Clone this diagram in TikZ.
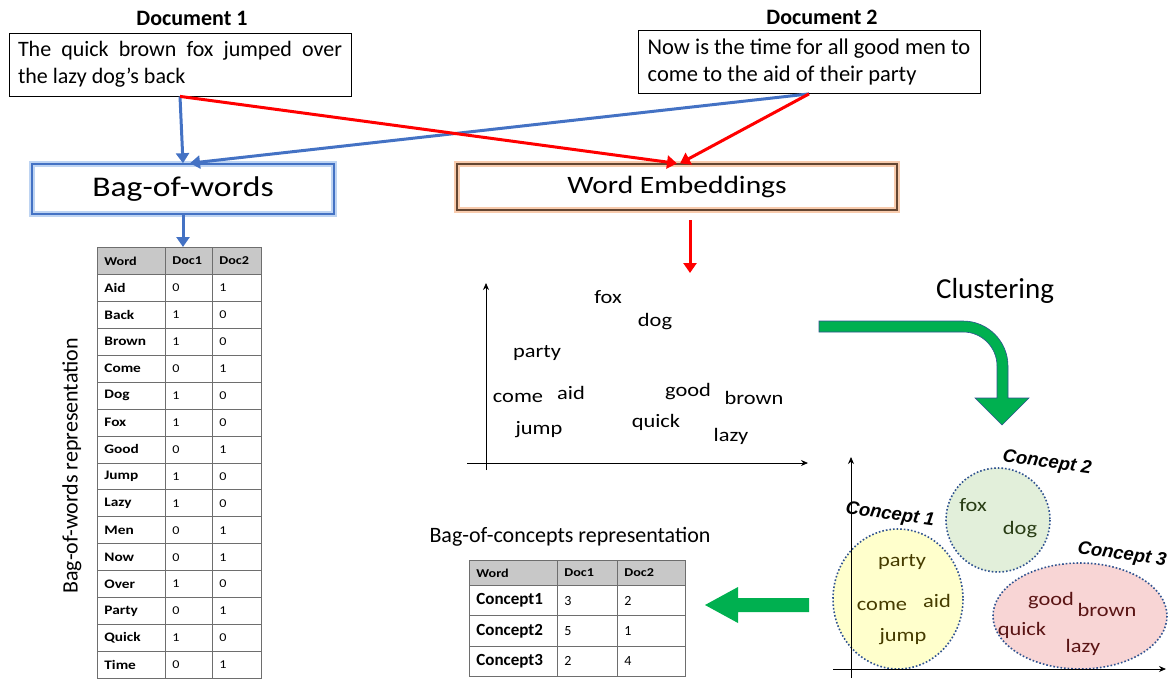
\documentclass[tikz,border=0pt]{standalone}
\usepackage{fontspec}
\setmainfont{Carlito}
\newfontfamily\widefont{Carlito}[FakeStretch=1.18]
\newfontfamily\conceptfont{Liberation Sans}
\usetikzlibrary{arrows.meta}

\definecolor{arrblue}{RGB}{68,114,196}
\definecolor{arrred}{RGB}{255,0,0}
\definecolor{glowblue}{RGB}{190,212,242}
\definecolor{gloworange}{RGB}{248,203,173}
\definecolor{embline}{RGB}{100,70,50}
\definecolor{arrgreen}{RGB}{0,176,80}
\definecolor{greenedge}{RGB}{47,82,143}
\definecolor{tabline}{RGB}{110,110,110}
\definecolor{tabhead}{RGB}{200,200,200}
\definecolor{dotblue}{RGB}{47,82,143}
\definecolor{conefill}{RGB}{255,255,204}
\definecolor{ctwofill}{RGB}{226,239,218}
\definecolor{cthreefill}{RGB}{248,213,213}
\definecolor{coneword}{RGB}{70,60,0}
\definecolor{ctwoword}{RGB}{40,60,20}
\definecolor{cthreeword}{RGB}{90,20,20}

\tikzset{
  doctitle/.style={font=\bfseries\fontsize{22}{26}\selectfont},
  docbox/.style={draw, line width=0.8pt, minimum height=63pt, inner xsep=9pt, text width=324pt, font=\fontsize{22}{27}\selectfont},
  bowbox/.style={draw=arrblue, line width=1.6pt, preaction={draw=glowblue, line width=6pt}, minimum width=302pt, minimum height=50pt, font=\widefont\fontsize{28.5}{32}\selectfont},
  embbox/.style={draw=embline, line width=1.2pt, preaction={draw=gloworange, line width=6pt}, minimum width=440pt, minimum height=46pt, font=\widefont\fontsize{25}{30}\selectfont},
  bluearrow/.style={draw=arrblue, line width=3pt, -{Triangle[length=10pt,width=13pt]}},
  redarrow/.style={draw=arrred, line width=3pt, -{Triangle[length=10pt,width=13pt]}},
  axis/.style={line width=0.8pt, -{Stealth[length=7pt,width=6pt]}},
  word/.style={font=\widefont\fontsize{19}{22}\selectfont},
  conlabel/.style={font=\conceptfont\bfseries\itshape\fontsize{18.5}{20}\selectfont, rotate=-8},
  bowcell/.style={draw=tabline, line width=0.8pt, anchor=north west, minimum height=26.93pt, inner xsep=7pt, inner ysep=0pt, align=left},
  bowhead/.style={font=\widefont\bfseries\fontsize{12}{14}\selectfont},
  bowword/.style={font=\widefont\bfseries\fontsize{13}{15}\selectfont},
  bownum/.style={font=\widefont\fontsize{12}{14}\selectfont},
  ctcell/.style={draw=tabline, line width=0.8pt, anchor=north west, minimum height=30.3pt, inner xsep=7pt, inner ysep=0pt, align=left},
}

\begin{document}
\begin{tikzpicture}[x=1pt,y=-1pt]
\useasboundingbox (0,0) rectangle (1168,678);

% Documents
\node[doctitle] (titleone) at (192,18) {Document 1};
\node[docbox, align=justify] (docone) at (180,64.5) {The quick brown fox jumped over\linebreak the lazy dog’s back};
\node[doctitle] (titletwo) at (822,17) {Document 2};
\node[draw, line width=0.8pt, minimum height=63pt, minimum width=342pt, inner xsep=8pt, align=left, font=\fontsize{22.5}{27}\selectfont] (doctwo) at (809,62) {Now is the time for all good men to\\come to the aid of their party};

% Two representations
\node[bowbox] (bow) at (183,189) {Bag-of-words};
\node[embbox] (emb) at (677,187) {Word Embeddings};

% Arrows from the documents
\draw[bluearrow] (docone.south) -- (bow.north);
\draw[bluearrow] (doctwo.south) -- ([xshift=7pt]bow.north);
\draw[redarrow] (docone.south) -- (emb.north);
\draw[redarrow] (doctwo.south) -- ([xshift=3pt]emb.north);

% Bag-of-words table
\node[bowcell, fill=tabhead, text width=54pt, bowhead] (bh1) at (97,247) {Word};
\node[bowcell, fill=tabhead, text width=33pt, bowhead] (bh2) at (165,247) {Doc1};
\node[bowcell, fill=tabhead, text width=35pt, bowhead] (bh3) at (212,247) {Doc2};
\foreach \w/\a/\b [count=\i] in {Aid/0/1, Back/1/0, Brown/1/0, Come/0/1, Dog/1/0, Fox/1/0, Good/0/1, Jump/1/0, Lazy/1/0, Men/0/1, Now/0/1, Over/1/0, Party/0/1, Quick/1/0, Time/0/1} {
  \node[bowcell, text width=54pt, bowword] (bw\i) at (97,{274+(\i-1)*26.93}) {\w};
  \node[bowcell, text width=33pt, bownum] (ba\i) at (165,{274+(\i-1)*26.93}) {\a};
  \node[bowcell, text width=35pt, bownum] (bb\i) at (212,{274+(\i-1)*26.93}) {\b};
}
\draw[bluearrow] (bow.south) -- (bow.south |- bh2.north);
\node[rotate=90, font=\fontsize{22}{26}\selectfont] (bowlabel) at (72,466) {Bag-of-words representation};

% Embedding space
\coordinate (embout) at (690,220);
\coordinate (plotin) at (690,273);
\draw[redarrow] (embout) -- (plotin);
\draw[axis] (486,470) -- (486,283);
\draw[axis] (467,463) -- (808,463);
\node[word] (fox) at (608,297) {fox};
\node[word] (dog) at (655,322) {dog};
\node[word] (party) at (537,353) {party};
\node[word] (come) at (518,398) {come};
\node[word] (aid) at (571,393) {aid};
\node[word] (jump) at (539,430) {jump};
\node[word] (good) at (688,392) {good};
\node[word] (brown) at (754,398) {brown};
\node[word] (quick) at (656,422) {quick};
\node[word] (lazy) at (731,436) {lazy};

% Clustering arrow
\node[font=\fontsize{29}{34}\selectfont] (clust) at (995,291) {Clustering};
\draw[fill=arrgreen, draw=greenedge, line width=0.6pt]
  (819,321) -- (963,321) .. controls (987.8,321) and (1008,341.2) .. (1008,366)
  -- (1008,398) -- (1029,398) -- (1002,425) -- (975,398) -- (997,398) -- (997,366)
  .. controls (997,347.2) and (981.8,332) .. (963,332) -- (819,332) -- cycle;

% Concept space
\draw[fill=conefill, draw=dotblue, line width=1.6pt, dotted] (898,599) ellipse [x radius=65, y radius=70];
\draw[fill=ctwofill, draw=dotblue, line width=1.6pt, dotted] (998,520) ellipse [x radius=52, y radius=52];
\draw[fill=cthreefill, draw=dotblue, line width=1.6pt, dotted] (1080,616) ellipse [x radius=87, y radius=53];
\draw[axis] (851,678) -- (851,457);
\draw[axis] (833,669) -- (1166,669);
\node[conlabel] (cone) at (890,515) {Concept 1};
\node[conlabel] (ctwo) at (1047,463) {Concept 2};
\node[conlabel] (cthree) at (1122,555) {Concept 3};
\node[word, text=coneword] (cparty) at (902,562) {party};
\node[word, text=coneword] (ccome) at (882,606) {come};
\node[word, text=coneword] (caid) at (937,601) {aid};
\node[word, text=coneword] (cjump) at (903,637) {jump};
\node[word, text=ctwoword] (cfox) at (973,505) {fox};
\node[word, text=ctwoword] (cdog) at (1020,530) {dog};
\node[word, text=cthreeword] (cgood) at (1051,601) {good};
\node[word, text=cthreeword] (cbrown) at (1107,610) {brown};
\node[word, text=cthreeword] (cquick) at (1022,630) {quick};
\node[word, text=cthreeword] (clazy) at (1083,647) {lazy};

% Back to documents
\draw[fill=arrgreen, draw=none] (705,605) -- (738,587) -- (738,598) -- (809,598) -- (809,612) -- (738,612) -- (738,623) -- cycle;

% Bag-of-concepts table
\node[font=\fontsize{22}{26}\selectfont] (boclabel) at (570,537) {Bag-of-concepts representation};
\node[ctcell, fill=tabhead, minimum height=25pt, text width=74pt, bowhead] (ch1) at (469,560) {Word};
\node[ctcell, fill=tabhead, minimum height=25pt, text width=46pt, bowhead] (ch2) at (557,560) {Doc1};
\node[ctcell, fill=tabhead, minimum height=25pt, text width=54pt, bowhead] (ch3) at (617,560) {Doc2};
\foreach \c/\a/\b [count=\i] in {Concept1/3/2, Concept2/5/1, Concept3/2/4} {
  \node[ctcell, text width=74pt, font=\bfseries\fontsize{17}{20}\selectfont] (cw\i) at (469,{585+(\i-1)*30.3}) {\c};
  \node[ctcell, text width=46pt, font=\fontsize{14}{16}\selectfont] (ca\i) at (557,{585+(\i-1)*30.3}) {\a};
  \node[ctcell, text width=54pt, font=\fontsize{14}{16}\selectfont] (cb\i) at (617,{585+(\i-1)*30.3}) {\b};
}

\end{tikzpicture}
\end{document}
